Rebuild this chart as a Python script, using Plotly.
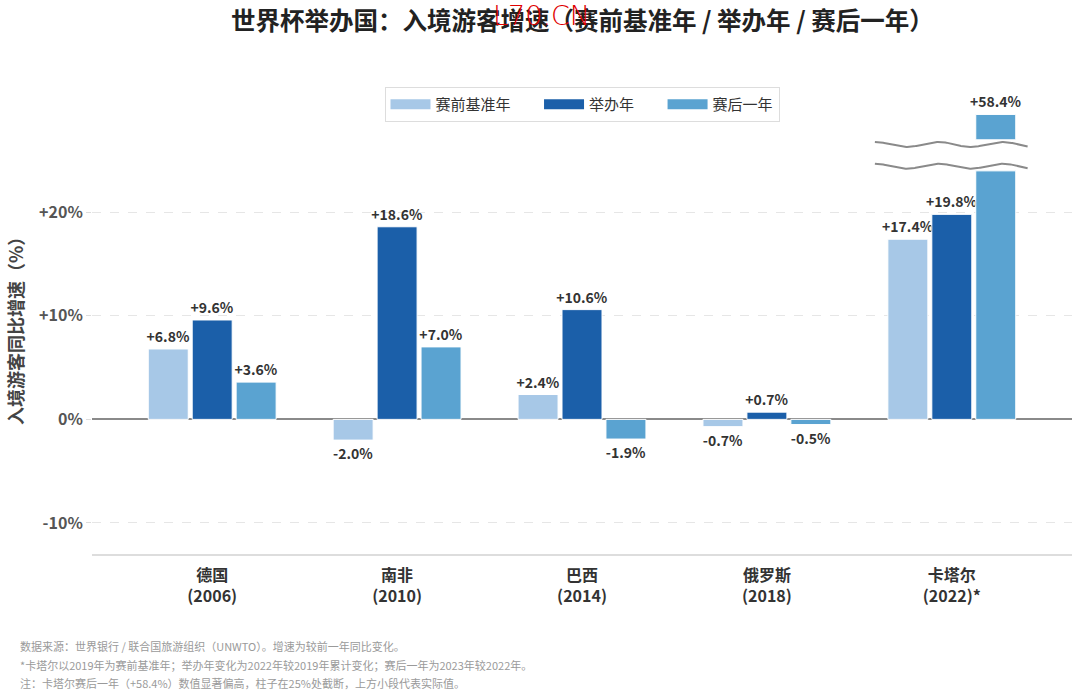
import numpy as np
import plotly.graph_objects as go

# ---------------- data ----------------
categories = ["德国<br>(2006)", "南非<br>(2010)", "巴西<br>(2014)", "俄罗斯<br>(2018)", "卡塔尔<br>(2022)*"]
series_names = ["赛前基准年", "举办年", "赛后一年"]
pre_year = [6.8, -2.0, 2.4, -0.7, 17.4]
host_year = [9.6, 18.6, 10.6, 0.7, 19.8]
post_year = [3.6, 7.0, -1.9, -0.5, 58.4]
colors = ["#a7c8e7", "#1b5fa9", "#5aa3d1"]

ytick_vals = [-10, 0, 10, 20]
ytick_text = ["-10%", "0%", "+10%", "+20%"]

CAP = 24.0          # visual truncation of the outlier bar
TOP_BASE = 27.0     # base of the small segment above the break
TOP_HEIGHT = 2.45   # height of that small segment

FONT = "Noto Sans CJK SC"
x = list(range(len(categories)))


def fmt(v):
    return f"{v:+.1f}%"


fig = go.Figure()

label_font = dict(family=FONT, size=14, color="#333333", weight="bold")
bar_common = dict(textposition="outside", textfont=label_font, constraintext="none",
                  cliponaxis=False, hoverinfo="skip", showlegend=False)

# pre-year & host-year
for name, vals, col, og in [(series_names[0], pre_year, colors[0], "a"),
                            (series_names[1], host_year, colors[1], "b")]:
    fig.add_trace(go.Bar(
        x=x, y=vals, name=name, marker=dict(color=col, line=dict(color="white", width=1)),
        text=[fmt(v) for v in vals], offsetgroup=og, **bar_common))

# post-year (capped)
post_capped = [min(v, CAP) for v in post_year]
post_text = [fmt(v) if v <= CAP else "" for v in post_year]
fig.add_trace(go.Bar(
    x=x, y=post_capped, name=series_names[2],
    marker=dict(color=colors[2], line=dict(color="white", width=1)),
    text=post_text, offsetgroup="c", **bar_common))

# small segment above the break for the outlier
out_idx = [i for i, v in enumerate(post_year) if v > CAP]
fig.add_trace(go.Bar(
    x=[x[i] for i in out_idx], y=[TOP_HEIGHT for _ in out_idx], base=[TOP_BASE for _ in out_idx],
    marker=dict(color=colors[2], line=dict(color="white", width=1)),
    text=[fmt(post_year[i]) for i in out_idx], offsetgroup="c", **bar_common))

# wavy break lines
for i in out_idx:
    wx = np.linspace(x[i] - 0.416, x[i] + 0.41, 200)
    for yc in (26.55, 24.45):
        wy = yc + 0.24 * np.sin((wx - (x[i] - 0.416)) / 0.345 * 2 * np.pi + np.pi / 2)
        fig.add_trace(go.Scatter(x=wx, y=wy, mode="lines", line=dict(color="#8a8a8a", width=2),
                                 showlegend=False, hoverinfo="skip", cliponaxis=False))

# legend entries (wide rectangular swatches)
PAD = "\u00a0" * 7
for k, (name, col) in enumerate(zip(series_names, colors)):
    label = name + (PAD if k < len(series_names) - 1 else "")
    fig.add_trace(go.Scatter(x=[None], y=[None], mode="lines", name=label,
                             line=dict(color=col, width=17), hoverinfo="skip"))

fig.update_layout(
    width=1080, height=696,
    margin=dict(l=92, r=8, t=58, b=142),
    paper_bgcolor="white", plot_bgcolor="white",
    barmode="group", bargap=0.287, bargroupgap=0.09,
    font=dict(family=FONT, color="#333333"),
    legend=dict(orientation="h", x=0.5, xanchor="center", y=(554 - 87) / 496, yanchor="top",
                bordercolor="#dddddd", borderwidth=1, bgcolor="white",
                font=dict(family=FONT, size=15, color="#333333"),
                itemwidth=40),
    showlegend=True,
)

fig.update_xaxes(
    range=[-0.65, 4.65], tickvals=x, ticktext=categories,
    tickfont=dict(family=FONT, size=16, color="#333333", weight="bold"),
    showgrid=False, zeroline=False, showline=True, linecolor="#dddddd", linewidth=2,
    ticks="", ticklabelstandoff=6,
)
fig.update_yaxes(
    range=[-13, 34.9], tickvals=ytick_vals, ticktext=ytick_text,
    tickfont=dict(family=FONT, size=16, color="#555555", weight="bold"),
    showgrid=True, gridcolor="#e6e6e6", griddash="dash", gridwidth=1,
    zeroline=True, zerolinecolor="#8a8a8a", zerolinewidth=2,
    showline=False, ticks="outside", ticklen=5, tickcolor="#dddddd",
)

# chart title (annotation so that the watermark can sit above it)
fig.add_annotation(text="世界杯举办国：入境游客增速（赛前基准年 / 举办年 / 赛后一年）",
                   xref="paper", yref="paper", x=0.5, y=(554 - 19) / 496,
                   xanchor="center", yanchor="middle", showarrow=False,
                   font=dict(family=FONT, size=24.5, color="#222222", weight="bold"))

# y-axis title
fig.add_annotation(text="入境游客同比增速（%）", xref="paper", yref="paper",
                   x=(15 - 92) / 980, y=(554 - 327) / 496, xanchor="center", yanchor="middle",
                   textangle=-90, showarrow=False,
                   font=dict(family=FONT, size=18, color="#444444", weight="bold"))

# watermark in title area
fig.add_annotation(text="L70.CN", xref="paper", yref="paper",
                   x=(541 - 92) / 980, y=(554 - 15) / 496, xanchor="center", yanchor="middle",
                   showarrow=False,
                   font=dict(family="DejaVu Sans", size=27, color="#e00000", weight=300))

notes = [
    "数据来源：世界银行 / 联合国旅游组织（UNWTO）。增速为较前一年同比变化。",
    "*卡塔尔以2019年为赛前基准年；举办年变化为2022年较2019年累计变化；赛后一年为2023年较2022年。",
    "注：卡塔尔赛后一年（+58.4%）数值显著偏高，柱子在25%处截断，上方小段代表实际值。",
]
for k, t in enumerate(notes):
    ypix = 646 + 18.5 * k
    fig.add_annotation(text=t, xref="paper", yref="paper", x=(18 - 92) / 980, y=(554 - ypix) / 496,
                       xanchor="left", yanchor="middle", showarrow=False,
                       font=dict(family=FONT, size=11, color="#9a9a9a"))

fig.write_html("out.html")
